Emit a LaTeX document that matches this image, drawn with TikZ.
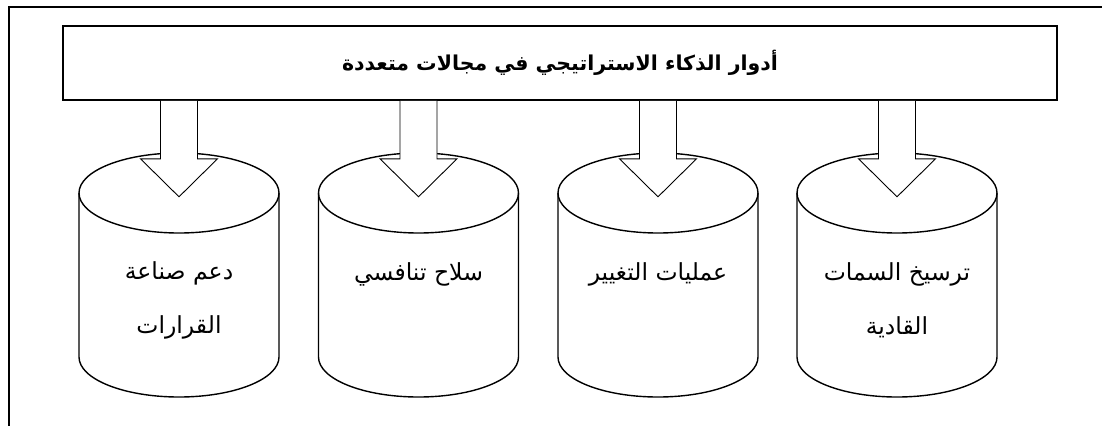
\documentclass[tikz,border=0pt]{standalone}
\usepackage{fontspec}
\usetikzlibrary{calc}
\newfontfamily\arabicfont[Script=Arabic]{DejaVu Sans}
\TeXXeTstate=1
\tikzset{
  frame/.style={line width=1.6pt},
  titlebox/.style={draw, line width=1.6pt, fill=white},
  cyl/.style={line width=1.4pt, line join=round},
  arr/.style={draw, line width=0.9pt, fill=white, line join=miter},
  cyltext/.style={align=center, font=\arabicfont\fontsize{23.5}{54}\selectfont},
}
\newcommand\drawcylinder[1]{%
  \draw[cyl] (#1-100,-193) -- (#1-100,-357)
     arc[start angle=180, end angle=360, x radius=100, y radius=40]
     -- (#1+100,-193);
  \draw[cyl] (#1,-193) ellipse[x radius=100, y radius=40];
}
\newcommand\downarrowto[1]{%
  \filldraw[arr] ($(t.south -| #1)+(-18.5,0)$) -- ++(0,-58) -- ++(-20,0)
     -- ($(t.south -| #1)+(0,-96)$) -- ++(38.5,38) -- ++(-20,0)
     -- ($(t.south -| #1)+(18.5,0)$);
}
\begin{document}
\begin{tikzpicture}[x=1pt,y=1pt]
\useasboundingbox (0,0) rectangle (1102,-426);
% outer frame (cropped)
\draw[frame] (1102,-7) -- (9,-7) -- (9,-426);
% cylinders
\drawcylinder{179}
\drawcylinder{418.5}
\drawcylinder{658}
\drawcylinder{897}
\node[cyltext] (c1) at (179,-300) {\beginR دعم صناعة\endR\\\beginR القرارات\endR};
\node[cyltext, anchor=base] (c2) at (418.5,-280) {\beginR سلاح تنافسي\endR};
\node[cyltext, anchor=base] (c3) at (658,-280) {\beginR عمليات التغيير\endR};
\node[cyltext] (c4) at (897,-300) {\beginR ترسيخ السمات\endR\\\beginR القادية\endR};
% title box
\node[titlebox, minimum width=994pt, minimum height=74pt, inner sep=0pt,
      font=\arabicfont\bfseries\fontsize{20.5}{24}\selectfont] (t) at (560,-63)
      {\beginR أدوار الذكاء الاستراتيجي في مجالات متعددة\endR};
% arrows
\downarrowto{c1}
\downarrowto{c2}
\downarrowto{c3}
\downarrowto{c4}
\end{tikzpicture}
\end{document}
